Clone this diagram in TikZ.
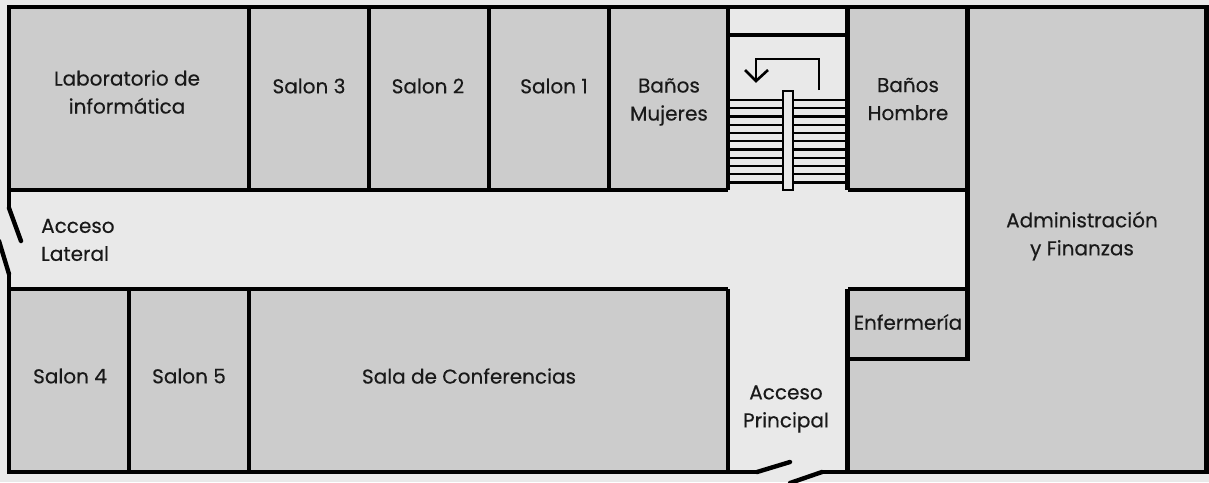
\documentclass[tikz,border=0pt]{standalone}
\usepackage{fontspec}
\setmainfont[FakeBold=0.35]{Poppins}
\definecolor{room}{HTML}{CCCCCC}
\definecolor{hall}{HTML}{E9E9E9}
\tikzset{
  x=1pt,y=-1pt,
  wall/.style={line width=4.6pt,draw=black,line cap=butt,line join=miter},
  door/.style={line width=4.4pt,draw=black,line cap=round},
  roomfill/.style={fill=room,draw=none},
  tread/.style={line width=2.3pt,draw=black},
  lbl/.style={font=\fontsize{20}{28}\selectfont,align=center,text=black!90,inner sep=0pt}
}
\begin{document}
\begin{tikzpicture}
\useasboundingbox (0,0) rectangle (1209,482);
\fill[hall] (0,0) rectangle (1209,482);
% room fills
\fill[roomfill] (9,7) rectangle (728,190);
\fill[roomfill] (848,7) rectangle (968,190);
\fill[roomfill] (9,289) rectangle (728,472);
\fill[roomfill] (968,7) -- (1206,7) -- (1206,472) -- (848,472) -- (848,359) -- (968,359) -- cycle;
\fill[roomfill] (848,289) rectangle (968,359);
% stair treads
\foreach \y in {100,108.2,116.5,124.7,133,141.3,149.6,158,166,174.2,182.4}
  \draw[tread] (728,\y) -- (848,\y);
\draw[line width=2.6pt,fill=hall] (783,91) rectangle (793,190);
% stair arrow
\draw[line width=2.4pt,line join=miter] (819,90) -- (819,59) -- (756,59) -- (756,80);
\draw[line width=2.6pt] (745,70) -- (756,81) -- (768,70);
% walls
\draw[wall] (9,209) -- (9,7) -- (1206.5,7) -- (1206.5,472) -- (848,472);
\draw[wall] (821,472) -- (848,472);
\draw[wall] (757,472) -- (9,472) -- (9,274);
\draw[wall] (9,190) -- (728,190);
\draw[wall] (848,190) -- (968,190);
\draw[wall] (9,289) -- (728,289);
\draw[wall] (728,35) -- (848,35);
\foreach \x in {249,369,489,609,728,847.5} \draw[wall] (\x,7) -- (\x,190);
\draw[wall] (967.5,7) -- (967.5,359) -- (848,359);
\draw[wall] (848,289) -- (968,289);
\draw[wall] (847.5,289) -- (847.5,472);
\draw[wall] (728,289) -- (728,472);
\draw[wall] (129,289) -- (129,472);
\draw[wall] (249,289) -- (249,472);
% doors
\draw[door] (9,208) -- (21,241);
\draw[door] (9,274) -- (-1,241);
\draw[door] (757,472) -- (790,462);
\draw[door] (822,472) -- (790,483);
% labels
\node[lbl] (lab) at (127,92) {Laboratorio de\\informática};
\node[lbl] (s3) at (309,86) {Salon 3};
\node[lbl] (s2) at (428,86) {Salon 2};
\node[lbl] (s1) at (554,86) {Salon 1};
\node[lbl] (bm) at (669,102) {Baños\\Mujeres};
\node[lbl] (bh) at (908,99) {Baños\\Hombre};
\node[lbl] (af) at (1082,236) {Administración\\y Finanzas};
\node[lbl,align=left,anchor=west] (al) at (41,240) {Acceso\\Lateral};
\node[lbl] (en) at (908,322) {Enfermería};
\node[lbl] (s4) at (70,376) {Salon 4};
\node[lbl] (s5) at (189,376) {Salon 5};
\node[lbl] (sc) at (469,376) {Sala de Conferencias};
\node[lbl] (ap) at (786,409) {Acceso\\Principal};
\end{tikzpicture}
\end{document}
